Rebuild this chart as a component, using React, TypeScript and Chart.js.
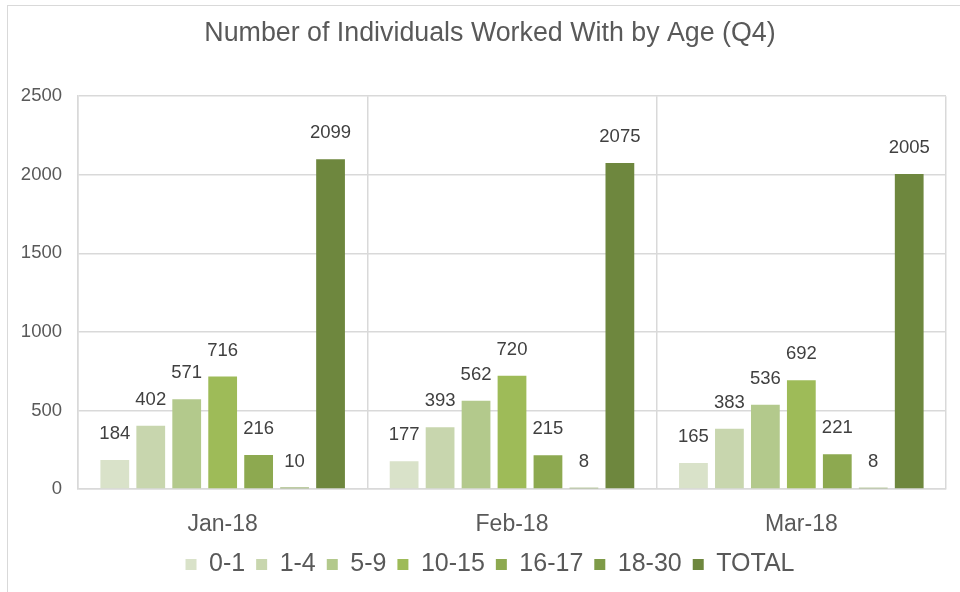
import React, { useEffect, useRef } from "react";
import { Chart, registerables } from "chart.js";

Chart.register(...registerables);

const months = ["Jan-18", "Feb-18", "Mar-18"];
const ageGroups = ["0-1", "1-4", "5-9", "10-15", "16-17", "18-30", "TOTAL"];
const age0to1 = [184, 177, 165];
const age1to4 = [402, 393, 383];
const age5to9 = [571, 562, 536];
const age10to15 = [716, 720, 692];
const age16to17 = [216, 215, 221];
const age18to30 = [10, 8, 8];
const total = [2099, 2075, 2005];
const colors = ["#D9E2C9", "#C8D6AE", "#B3C98C", "#9EBB58", "#8DA950", "#7E9B48", "#6E873E"];

const seriesValues = [age0to1, age1to4, age5to9, age10to15, age16to17, age18to30, total];

const FONT = "'Liberation Sans', Arial, sans-serif";

const labelPlugin = {
  id: "valueLabels",
  afterDatasetsDraw(chart: any) {
    const ctx = chart.ctx;
    ctx.save();
    ctx.font = `18.5px ${FONT}`;
    ctx.fillStyle = "#404040";
    ctx.textAlign = "center";
    ctx.textBaseline = "middle";
    chart.data.datasets.forEach((ds: any, i: number) => {
      const meta = chart.getDatasetMeta(i);
      meta.data.forEach((el: any, j: number) => {
        ctx.fillText(String(ds.data[j]), el.x, el.y - 26);
      });
    });
    ctx.restore();
  },
};

export default function App() {
  const ref = useRef<HTMLCanvasElement>(null);
  useEffect(() => {
    if (!ref.current) return;
    const chart = new Chart(ref.current, {
      type: "bar",
      data: {
        labels: months,
        datasets: ageGroups.map((g, i) => ({
          label: g,
          data: seriesValues[i],
          backgroundColor: colors[i],
          borderWidth: 0,
          categoryPercentage: 0.87,
          barPercentage: 0.8,
          yAxisID: "y",
        })),
      },
      options: {
        animation: false,
        responsive: false,
        maintainAspectRatio: false,
        layout: { padding: { left: 0, right: -20, top: 0, bottom: 5 } },
        plugins: {
          title: {
            display: true,
            text: "Number of Individuals Worked With by Age (Q4)",
            color: "#595959",
            font: { family: FONT, size: 26.8, weight: "normal" },
            padding: { top: 18, bottom: 46 },
          },
          legend: {
            position: "bottom",
            labels: {
              color: "#595959",
              font: { family: FONT, size: 25 },
              boxWidth: 11,
              boxHeight: 11,
              padding: 11,
            },
          },
          tooltip: { enabled: false },
        },
        scales: {
          x: {
            grid: { color: "#D9D9D9", lineWidth: 1.5, drawTicks: false, offset: true },
            border: { color: "#D9D9D9", width: 1.5 },
            ticks: { color: "#595959", font: { family: FONT, size: 23 }, padding: 22 },
            afterFit(scale: any) {
              scale.height = 52;
            },
          },
          y: {
            position: "left",
            min: 0,
            max: 2500,
            grid: { color: "#D9D9D9", lineWidth: 1.5, drawTicks: false },
            border: { color: "#D9D9D9", width: 1.5 },
            ticks: {
              stepSize: 500,
              color: "#595959",
              font: { family: FONT, size: 18.5 },
              padding: 16,
              callback: (v: any) => String(v),
            },
            afterFit(scale: any) {
              scale.width = 78;
            },
          },
          spacer: {
            type: "linear",
            position: "right",
            display: true,
            grid: { display: false, drawTicks: false },
            border: { display: false },
            ticks: { display: false },
            afterFit(scale: any) {
              scale.width = 34;
            },
          },
        },
      },
      plugins: [labelPlugin],
    });
    return () => chart.destroy();
  }, []);
  return (
    <div style={{ position: "fixed", left: 0, top: 0, width: 960, height: 592, background: "#fff", overflow: "hidden" }}>
      <div
        style={{
          position: "absolute",
          left: 7,
          top: 5,
          width: 1000,
          height: 1000,
          border: "1.5px solid #D9D9D9",
          boxSizing: "border-box",
        }}
      />
      <canvas ref={ref} width={960} height={592} style={{ position: "absolute", left: 0, top: 0 }} />
    </div>
  );
}
